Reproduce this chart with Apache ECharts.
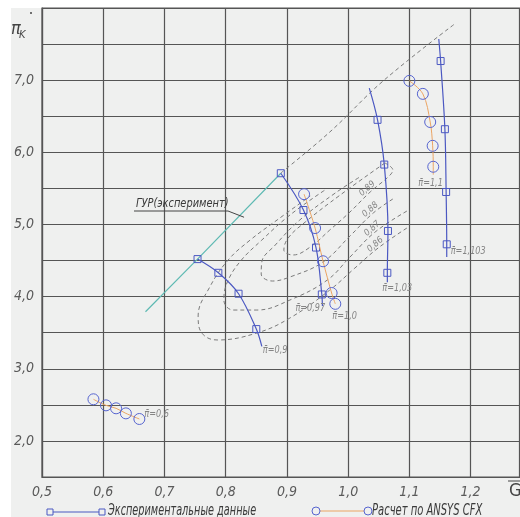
<!DOCTYPE html>
<html><head><meta charset="utf-8">
<script src="https://cdn.jsdelivr.net/npm/echarts@6/dist/echarts.min.js"></script>
<style>
html,body{margin:0;padding:0;background:#fff;}
#wrap{position:relative;width:520px;height:517px;overflow:hidden;}
#bg{position:absolute;left:11px;top:8px;right:0;bottom:0;background:#eff0ef;}
#chart{position:absolute;left:0;top:0;width:520px;height:517px;}
</style></head><body>
<div id="wrap"><div id="bg"></div><div id="chart"></div></div>
<script>
// ---- axis ----
const X_MIN = 0.5, X_MAX = 1.28, X_STEP = 0.1;
const Y_MIN = 1.5, Y_MAX = 8.0, Y_STEP = 0.5;
const Y_LABELS = [2, 3, 4, 5, 6, 7];

// ---- experimental data (squares) ----
const G_e09 = [0.754, 0.788, 0.821, 0.850, 0.859];
const P_e09 = [4.52, 4.33, 4.04, 3.55, 3.31];
const M_e09 = [1, 1, 1, 1, 0];

const G_e097 = [0.890, 0.927, 0.9475, 0.957, 0.958];
const P_e097 = [5.71, 5.20, 4.68, 4.03, 3.87];
const M_e097 = [1, 1, 1, 1, 0];

const G_e103 = [1.0345, 1.048, 1.059, 1.065, 1.064, 1.064];
const P_e103 = [6.89, 6.45, 5.83, 4.91, 4.33, 4.20];
const M_e103 = [0, 1, 1, 1, 1, 0];

const G_e1103 = [1.148, 1.151, 1.158, 1.160, 1.161, 1.161];
const P_e1103 = [7.57, 7.265, 6.32, 5.45, 4.725, 4.55];
const M_e1103 = [0, 1, 1, 1, 1, 0];

// ---- ANSYS CFX (circles) ----
const G_c06 = [0.584, 0.6045, 0.621, 0.637, 0.659];
const P_c06 = [2.577, 2.493, 2.452, 2.382, 2.304];
const M_c06 = [1, 1, 1, 1, 1];

const G_c10 = [0.928, 0.946, 0.959, 0.973, 0.979];
const P_c10 = [5.42, 4.95, 4.49, 4.05, 3.90];
const M_c10 = [1, 1, 1, 1, 1];

const G_c11 = [1.100, 1.122, 1.134, 1.138, 1.139, 1.139];
const P_c11 = [6.99, 6.81, 6.42, 6.09, 5.80, 5.69];
const M_c11 = [1, 1, 1, 1, 1, 0];

// ---- surge line (experiment) ----
const G_gur = [0.669, 0.754, 0.890];
const P_gur = [3.79, 4.52, 5.71];

// ---- dashed lines: efficiency contours ----
const L_diag = [[0.890, 5.713], [0.970, 6.281], [1.057, 6.988], [1.176, 7.792]];
const C_089 = [[1.060, 5.852], [0.987, 5.408], [0.930, 5.034], [0.902, 4.812], [0.895, 4.646], [0.910, 4.577], [0.938, 4.687], [0.970, 4.923], [1.003, 5.173], [1.036, 5.450], [1.067, 5.672], [1.073, 5.755], [1.060, 5.852]];
const C_088 = [[1.073, 5.353], [1.041, 5.159], [1.003, 4.840], [0.959, 4.480], [0.905, 4.272], [0.876, 4.216], [0.858, 4.313], [0.859, 4.480], [0.881, 4.715], [0.921, 5.062], [0.979, 5.436], [1.019, 5.658]];
const C_087 = [[1.096, 5.186], [1.044, 4.895], [1.003, 4.549], [0.966, 4.230], [0.905, 3.953], [0.851, 3.814], [0.812, 3.814], [0.797, 3.953], [0.802, 4.188], [0.823, 4.480], [0.859, 4.784], [0.905, 5.131], [0.962, 5.477]];
const C_086 = [[1.096, 4.951], [1.049, 4.674], [1.011, 4.396], [0.970, 4.091], [0.905, 3.704], [0.851, 3.496], [0.786, 3.399], [0.761, 3.496], [0.755, 3.731], [0.774, 4.133], [0.804, 4.507], [0.840, 4.784], [0.884, 5.062], [0.938, 5.394]];
const CONTOUR_LABELS = ['0,89', '0,88', '0,87', '0,86'];

const BLUE = '#4b58c2', ORANGE = '#eba463', TEAL = '#5fbab3', DASH = '#7a7a7a', GRID = '#555555';
const FONT = '"Liberation Sans Narrow","DejaVu Sans Condensed",sans-serif';
const PI = '\u03C0\u0304';

function mk(G, P, M) { return G.map((g, i) => M[i] ? [g, P[i]] : { value: [g, P[i]], symbol: 'none' }); }

function expSeries(G, P, M) {
  return { type: 'line', smooth: 0.35, data: mk(G, P, M), symbol: 'rect', symbolSize: 7,
    itemStyle: { color: 'rgba(0,0,0,0)', borderColor: BLUE, borderWidth: 1 },
    lineStyle: { color: BLUE, width: 1.2 }, z: 5, animation: false };
}
function cfxSeries(G, P, M) {
  return { type: 'line', smooth: 0.35, data: mk(G, P, M), symbol: 'circle', symbolSize: 11,
    itemStyle: { color: 'rgba(0,0,0,0)', borderColor: '#5664cf', borderWidth: 1 },
    lineStyle: { color: ORANGE, width: 1 }, z: 6, animation: false };
}
function dashSeries(pts) {
  return { type: 'line', smooth: 0.4, data: pts, symbol: 'none',
    lineStyle: { color: DASH, width: 1, type: [4, 3] }, z: 3, animation: false };
}

const chart = echarts.init(document.getElementById('chart'));
chart.setOption({
  backgroundColor: 'transparent',
  animation: false,
  grid: { left: 42, top: 8, width: 477.6, height: 469, show: true, borderColor: GRID, borderWidth: 1.2, backgroundColor: 'transparent' },
  xAxis: { type: 'value', min: X_MIN, max: X_MAX, interval: X_STEP,
    axisLine: { show: true, lineStyle: { color: GRID, width: 1.2 } }, axisTick: { show: false },
    splitLine: { show: true, lineStyle: { color: GRID, width: 1.2 } },
    axisLabel: { margin: 8, showMaxLabel: false, color: '#5a5a5a', fontSize: 14, fontStyle: 'italic', fontFamily: FONT,
      formatter: v => (Math.abs(v - X_MAX) < 1e-6 ? '' : v.toFixed(1).replace('.', ',')) } },
  yAxis: { type: 'value', min: Y_MIN, max: Y_MAX, interval: Y_STEP,
    axisLine: { show: true, lineStyle: { color: GRID, width: 1.2 } }, axisTick: { show: false },
    splitLine: { show: true, lineStyle: { color: GRID, width: 1.2 } },
    axisLabel: { margin: 8, color: '#5a5a5a', fontSize: 14, fontStyle: 'italic', fontFamily: FONT,
      formatter: v => (Y_LABELS.some(t => Math.abs(t - v) < 1e-6) ? v.toFixed(1).replace('.', ',') : '') } },
  series: [
    dashSeries(L_diag), dashSeries(C_089), dashSeries(C_088), dashSeries(C_087), dashSeries(C_086),
    { type: 'line', data: G_gur.map((g, i) => [g, P_gur[i]]), symbol: 'none', lineStyle: { color: TEAL, width: 1.2 }, z: 4 },
    expSeries(G_e09, P_e09, M_e09), expSeries(G_e097, P_e097, M_e097),
    expSeries(G_e103, P_e103, M_e103), expSeries(G_e1103, P_e1103, M_e1103),
    cfxSeries(G_c06, P_c06, M_c06), cfxSeries(G_c10, P_c10, M_c10), cfxSeries(G_c11, P_c11, M_c11)
  ]
});

function px(p) { return chart.convertToPixel({ gridIndex: 0 }, p); }
const labStyle = { fill: '#858585', fontSize: 11, fontStyle: 'italic', fontFamily: FONT };
function lab(text, pt, dx, dy, align) {
  const q = px(pt);
  return { type: 'text', x: q[0] + dx, y: q[1] + dy, z: 10, scaleX: 0.82,
    style: Object.assign({ text: text, align: align || 'left', verticalAlign: 'middle' }, labStyle) };
}
const last = (G, P) => [G[G.length - 1], P[P.length - 1]];
const g = [];
g.push(lab(PI + '=0,6', last(G_c06, P_c06), 5, -5));
g.push(lab(PI + '=0,9', last(G_e09, P_e09), 1, 4));
g.push(lab(PI + '=0,97', last(G_e097, P_e097), -27, 2));
g.push(lab(PI + '=1,0', last(G_c10, P_c10), -3, 12));
g.push(lab(PI + '=1,03', last(G_e103, P_e103), -5, 6));
g.push(lab(PI + '=1,1', last(G_c11, P_c11), -15, 8));
g.push(lab(PI + '=1,103', last(G_e1103, P_e1103), 4, -6));
// contour labels (rotated, sitting on their lines)
const cl = [[C_089, 9], [C_088, 1], [C_087, 1], [C_086, 1]];
cl.forEach((c, i) => {
  const q = px(c[0][c[1]]);
  g.push({ type: 'text', x: q[0], y: q[1], rotation: 0.72, z: 10,
    style: Object.assign({ text: CONTOUR_LABELS[i], align: 'center', verticalAlign: 'bottom' }, labStyle, { fontSize: 9 }) });
});
// ГУР annotation
const gq = px([0.83, 5.1]);
g.push({ type: 'text', x: 136, y: 197, z: 10, scaleX: 0.84, style: { text: 'ГУР(эксперимент)', fill: '#3a3a3a', fontSize: 13, fontStyle: 'italic', fontFamily: FONT } });
g.push({ type: 'polyline', z: 10, shape: { points: [[134, 211], [228, 211], [gq[0], gq[1]]] }, style: { stroke: '#444', lineWidth: 1, fill: null } });
// axis titles
g.push({ type: 'text', x: 11, y: 20, z: 10, style: { text: 'π', fill: '#444', fontSize: 18, fontStyle: 'italic', fontFamily: FONT } });
g.push({ type: 'text', x: 19, y: 30, z: 10, style: { text: 'K', fill: '#444', fontSize: 11, fontStyle: 'italic', fontFamily: FONT } });
g.push({ type: 'circle', z: 10, shape: { cx: 31, cy: 13, r: 1 }, style: { fill: '#444' } });
g.push({ type: 'text', x: 509, y: 482, z: 10, style: { text: 'G', fill: '#444', fontSize: 18, fontFamily: FONT } });
g.push({ type: 'line', z: 10, shape: { x1: 508, y1: 481, x2: 520, y2: 481 }, style: { stroke: '#444', lineWidth: 1 } });
// legend
g.push({ type: 'line', z: 10, shape: { x1: 50, y1: 512, x2: 102, y2: 512 }, style: { stroke: BLUE, lineWidth: 1.2 } });
g.push({ type: 'rect', z: 11, shape: { x: 47, y: 509, width: 6, height: 6 }, style: { fill: '#eff0ef', stroke: BLUE, lineWidth: 1 } });
g.push({ type: 'rect', z: 11, shape: { x: 99, y: 509, width: 6, height: 6 }, style: { fill: '#eff0ef', stroke: BLUE, lineWidth: 1 } });
g.push({ type: 'text', x: 108, y: 504, z: 10, scaleX: 0.72, style: { text: 'Экспериментальные данные', fill: '#3a3a3a', fontSize: 15, fontStyle: 'italic', fontFamily: FONT } });
g.push({ type: 'line', z: 10, shape: { x1: 316, y1: 511, x2: 368, y2: 511 }, style: { stroke: ORANGE, lineWidth: 1 } });
g.push({ type: 'circle', z: 11, shape: { cx: 316, cy: 511, r: 4 }, style: { fill: '#eff0ef', stroke: '#5664cf', lineWidth: 1 } });
g.push({ type: 'circle', z: 11, shape: { cx: 368, cy: 511, r: 4 }, style: { fill: '#eff0ef', stroke: '#5664cf', lineWidth: 1 } });
g.push({ type: 'text', x: 372, y: 504, z: 10, scaleX: 0.74, style: { text: 'Расчет по ANSYS CFX', fill: '#3a3a3a', fontSize: 15, fontStyle: 'italic', fontFamily: FONT } });
chart.setOption({ graphic: { elements: g } });
</script>
</body></html>
